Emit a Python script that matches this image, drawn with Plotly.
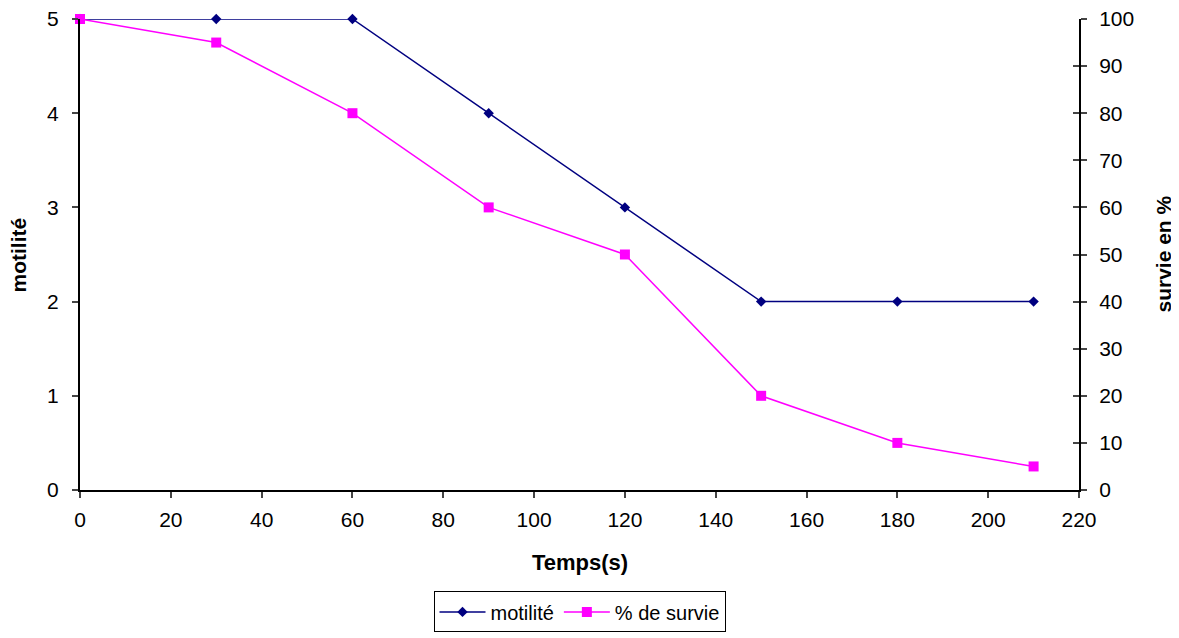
import plotly.graph_objects as go

temps = [0, 30, 60, 90, 120, 150, 180, 210]
motilite = [5, 5, 5, 4, 3, 2, 2, 2]
survie = [100, 95, 80, 60, 50, 20, 10, 5]

FONT = "Liberation Sans, Arial, sans-serif"
FS = 21
FT = 22

fig = go.Figure()
fig.add_trace(go.Scatter(
    x=temps, y=motilite, name="motilité", mode="lines+markers",
    line=dict(color="#000080", width=1.5),
    marker=dict(symbol="diamond", size=8, color="#000080"),
    yaxis="y", cliponaxis=False,
))
fig.add_trace(go.Scatter(
    x=temps, y=survie, name="% de survie", mode="lines+markers",
    line=dict(color="#FF00FF", width=1.5),
    marker=dict(symbol="square", size=10, color="#FF00FF"),
    yaxis="y2", cliponaxis=False,
))

axis_common = dict(
    showgrid=False, zeroline=False, showline=True, linecolor="black", linewidth=2,
    ticks="outside", ticklen=6, tickcolor="#444", tickwidth=1.5, automargin=False,
    ticklabeloverflow="allow",
    tickfont=dict(family=FONT, size=FS, color="black"),
)

fig.update_layout(
    width=1171, height=630,
    paper_bgcolor="white", plot_bgcolor="white",
    margin=dict(l=72, r=100, t=11, b=148),
    font=dict(family=FONT, color="black"),
    xaxis=dict(range=[0, 220], dtick=20, ticklabelstandoff=4, **axis_common),
    yaxis=dict(range=[0, 5], dtick=1, ticklabelstandoff=9, **axis_common),
    yaxis2=dict(range=[0, 100], dtick=10, overlaying="y", side="right",
                ticklabelstandoff=8, **axis_common),
    yaxis3=dict(range=[0, 100], dtick=10, overlaying="y", side="right",
                showgrid=False, zeroline=False, showline=False, showticklabels=False,
                ticks="inside", ticklen=6, tickcolor="#444", tickwidth=1.5, automargin=False),
    legend=dict(orientation="h", x=0.5, xanchor="center",
                yref="container", y=0.074, yanchor="top",
                bordercolor="black", borderwidth=1,
                font=dict(family=FONT, size=20), itemwidth=46, tracegroupgap=0),
    showlegend=True,
    annotations=[
        dict(text="<b>Temps(s)</b>", xref="paper", yref="paper", x=0.5, y=-0.1547,
             yanchor="middle", showarrow=False, font=dict(family=FONT, size=FT)),
        dict(text="<b>motilité</b>", xref="paper", yref="paper", x=-0.0611, y=0.5,
             xanchor="center", yanchor="middle", textangle=-90, showarrow=False,
             font=dict(family=FONT, size=21)),
        dict(text="<b>survie en %</b>", xref="paper", yref="paper", x=1.0841, y=0.5,
             xanchor="center", yanchor="middle", textangle=-90, showarrow=False,
             font=dict(family=FONT, size=21)),
    ],
)
# invisible trace to activate yaxis3 (crossing ticks on the right axis)
fig.add_trace(go.Scatter(x=[0], y=[0], yaxis="y3", mode="markers", opacity=0,
                         showlegend=False, hoverinfo="skip"))

fig.write_html("out.html")
